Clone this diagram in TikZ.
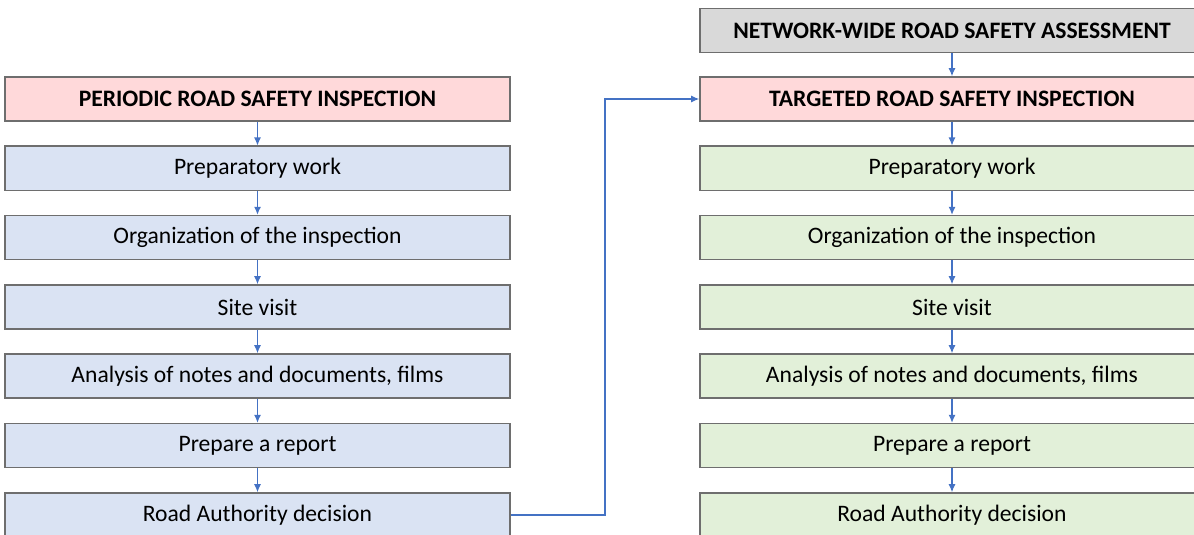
\documentclass[tikz,border=0pt]{standalone}
\usepackage{fontspec}
\setmainfont{Carlito}
\usetikzlibrary{arrows.meta}
\definecolor{boxline}{HTML}{6E6E6E}
\definecolor{pinkfill}{HTML}{FFD9DA}
\definecolor{bluefill}{HTML}{DAE3F3}
\definecolor{greenfill}{HTML}{E2F0D9}
\definecolor{greyfill}{HTML}{D9D9D9}
\definecolor{arrowblue}{HTML}{4472C4}
\tikzset{
  stepbox/.style={draw=boxline, line width=0.8pt, minimum width=252.5pt, minimum height=22pt, inner sep=0pt, font=\fontsize{11.8}{14}\selectfont},
  leftbox/.style={stepbox, fill=bluefill},
  rightbox/.style={stepbox, fill=greenfill, minimum width=252pt},
  titlebox/.style={stepbox, fill=pinkfill, font=\fontsize{11.8}{14}\selectfont\bfseries},
  greybox/.style={stepbox, fill=greyfill, minimum width=252pt, font=\fontsize{11.8}{14}\selectfont\bfseries},
  flow/.style={draw=arrowblue, line width=0.55pt, -{Latex[length=4pt,width=3.5pt]}}
}
\begin{document}
\begin{tikzpicture}[x=0.5pt,y=-0.5pt]
\useasboundingbox (0,0) rectangle (1194,535);
\clip (0,0) rectangle (1194,535);
% left column
\node[titlebox] (L0) at (257.5,99) {PERIODIC ROAD SAFETY INSPECTION};
\node[leftbox] (L1) at (257.5,168.3) {Preparatory work};
\node[leftbox] (L2) at (257.5,237.6) {Organization of the inspection};
\node[leftbox] (L3) at (257.5,307) {Site visit};
\node[leftbox] (L4) at (257.5,376) {Analysis of notes and documents, films};
\node[leftbox] (L5) at (257.5,445.6) {Prepare a report};
\node[leftbox] (L6) at (257.5,515) {Road Authority decision};
% right column
\node[greybox] (G) at (952,30.5) {NETWORK-WIDE ROAD SAFETY ASSESSMENT};
\node[titlebox, minimum width=252pt] (R0) at (952,99) {TARGETED ROAD SAFETY INSPECTION};
\node[rightbox] (R1) at (952,168.3) {Preparatory work};
\node[rightbox] (R2) at (952,237.6) {Organization of the inspection};
\node[rightbox] (R3) at (952,307) {Site visit};
\node[rightbox] (R4) at (952,376) {Analysis of notes and documents, films};
\node[rightbox] (R5) at (952,445.6) {Prepare a report};
\node[rightbox] (R6) at (952,515) {Road Authority decision};
% arrows
\foreach \a/\b in {L0/L1,L1/L2,L2/L3,L3/L4,L4/L5,L5/L6,G/R0,R0/R1,R1/R2,R2/R3,R3/R4,R4/R5,R5/R6}
  \draw[flow] (\a.south) -- (\b.north);
\coordinate (bend) at (605,0);
\draw[flow] (L6.east) -| (bend |- R0.west) -- (R0.west);
\end{tikzpicture}
\end{document}
